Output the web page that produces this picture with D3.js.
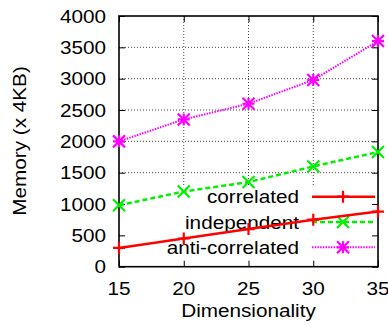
<!DOCTYPE html>
<html>
<head>
<meta charset="utf-8">
<script src="https://cdn.jsdelivr.net/npm/d3@7"></script>
<style>
  html, body { margin: 0; padding: 0; background: #fff; }
  svg { display: block; }
  text { font-family: "Liberation Sans", Arial, Helvetica, sans-serif; fill: #000; }
</style>
</head>
<body>
<div id="chart"></div>
<script>
// Memory use versus dimensionality for three data distributions
const dims = [15, 20, 25, 30, 35];
const correlated = [300, 450, 600, 750, 880];
const independent = [980, 1200, 1350, 1600, 1830];
const antiCorrelated = [2000, 2350, 2600, 2980, 3600];
const xTicks = [15, 20, 25, 30, 35];
const yTicks = [0, 500, 1000, 1500, 2000, 2500, 3000, 3500, 4000];
const seriesNames = ["correlated", "independent", "anti-correlated"];

const W = 388, H = 332;
const m = { left: 119, right: 378, top: 16, bottom: 266.7 };
const FS = 18.5, SX = 1.12;

const svg = d3.select("#chart").append("svg").attr("width", W).attr("height", H);

const x = d3.scaleLinear().domain([15, 35]).range([m.left, m.right]);
const y = d3.scaleLinear().domain([0, 4000]).range([m.bottom, m.top]);

// horizontally widened text, anchored at (tx, ty)
function label(g, tx, ty, str, anchor, rot) {
  return g.append("text")
    .attr("transform", `translate(${tx},${ty})` + (rot ? ` rotate(${rot})` : "") + ` scale(${SX},1)`)
    .attr("text-anchor", anchor)
    .attr("font-size", FS)
    .text(str);
}

// grid
const grid = svg.append("g").attr("stroke", "#444").attr("stroke-width", 1).attr("stroke-dasharray", "1,2");
grid.selectAll("line.h").data(yTicks.slice(1, -1)).join("line")
  .attr("x1", m.left).attr("x2", m.right).attr("y1", d => y(d)).attr("y2", d => y(d));
grid.selectAll("line.v").data(xTicks.slice(1, -1)).join("line")
  .attr("y1", m.top).attr("y2", m.bottom).attr("x1", d => x(d)).attr("x2", d => x(d));

// legend backdrop hides the grid beneath it
svg.append("rect").attr("x", m.left + 1).attr("y", 185).attr("width", m.right - m.left - 1).attr("height", m.bottom - 185 - 0.5)
  .attr("fill", "#fff");

// axes with inward mirrored ticks
const axes = svg.append("g");
const yAxisL = d3.axisLeft(y).tickValues(yTicks).tickSize(-6).tickFormat("");
const yAxisR = d3.axisRight(y).tickValues(yTicks).tickSize(-6).tickFormat("");
const xAxisB = d3.axisBottom(x).tickValues(xTicks).tickSize(-6).tickFormat("");
const xAxisT = d3.axisTop(x).tickValues(xTicks).tickSize(-6).tickFormat("");
axes.append("g").attr("transform", `translate(${m.left},0)`).call(yAxisL);
axes.append("g").attr("transform", `translate(${m.right},0)`).call(yAxisR);
axes.append("g").attr("transform", `translate(0,${m.bottom})`).call(xAxisB);
axes.append("g").attr("transform", `translate(0,${m.top})`).call(xAxisT);
axes.selectAll(".domain").remove();
axes.selectAll(".tick line").attr("stroke", "#000").attr("stroke-width", 1);

svg.append("rect").attr("x", m.left).attr("y", m.top)
  .attr("width", m.right - m.left).attr("height", m.bottom - m.top)
  .attr("fill", "none").attr("stroke", "#000").attr("stroke-width", 1.6);

// tick labels
const tl = svg.append("g");
yTicks.forEach(v => label(tl, 106, y(v) + 6.5, String(v), "end"));
xTicks.forEach(v => label(tl, x(v), 295, String(v), "middle"));

// axis titles
label(svg, (m.left + m.right) / 2, 317, "Dimensionality", "middle");
label(svg, 26, 141, "Memory (x 4KB)", "middle", -90);

// marker shapes
const r = 6;
const plus = `M${-r},0H${r}M0,${-r}V${r}`;
const cross = `M${-r},${-r}L${r},${r}M${-r},${r}L${r},${-r}`;
const star = plus + cross;

const series = [
  { name: seriesNames[0], values: correlated, color: "#ff0000", dash: null, width: 2.5, marker: plus },
  { name: seriesNames[1], values: independent, color: "#00f000", dash: "5,3", width: 2.5, marker: cross },
  { name: seriesNames[2], values: antiCorrelated, color: "#ff00ff", dash: "1.5,1.2", width: 2, marker: star }
];

const line = d3.line().x((d, i) => x(dims[i])).y(d => y(d));

// legend rows
const legY = [196.7, 222, 247.3];
series.forEach((s, k) => {
  const ly = legY[k];
  label(svg, 299, ly + 6.5, s.name, "end");
  svg.append("line").attr("x1", 312).attr("x2", 375).attr("y1", ly).attr("y2", ly)
    .attr("stroke", s.color).attr("stroke-width", s.width).attr("stroke-dasharray", s.dash);
  svg.append("path").attr("d", s.marker).attr("transform", `translate(343,${ly})`)
    .attr("stroke", s.color).attr("stroke-width", 2.2).attr("fill", "none");
});

// data lines and points
series.forEach(s => {
  svg.append("path").datum(s.values).attr("d", line)
    .attr("fill", "none").attr("stroke", s.color).attr("stroke-width", s.width)
    .attr("stroke-dasharray", s.dash);
  svg.append("g").selectAll("path").data(s.values).join("path")
    .attr("d", s.marker)
    .attr("transform", (d, i) => `translate(${x(dims[i])},${y(d)})`)
    .attr("stroke", s.color).attr("stroke-width", 2.2).attr("fill", "none");
});
</script>
</body>
</html>
